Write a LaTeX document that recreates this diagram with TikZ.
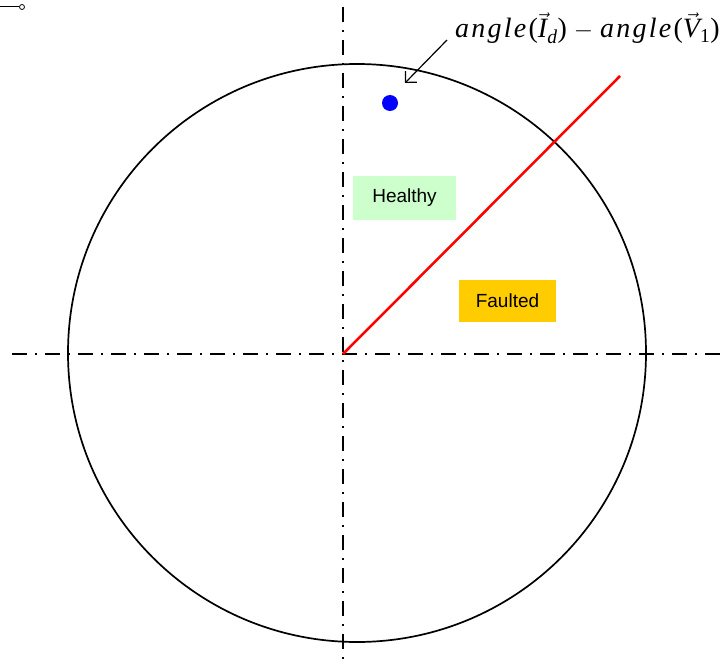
\documentclass[tikz,border=0pt]{standalone}
\usepackage{amsmath}
\usepackage{fontspec}
\setmainfont{Liberation Sans}
\newfontfamily\eqfont[LetterSpace=8]{Liberation Serif}
\usetikzlibrary{arrows.meta}
\definecolor{healthG}{RGB}{204,255,204}
\definecolor{faultO}{RGB}{255,204,0}
\definecolor{trajR}{RGB}{255,0,0}
\definecolor{pointB}{RGB}{0,0,255}

\begin{document}
\begin{tikzpicture}[x=1pt, y=-1pt,
  axis/.style={line width=1.5pt, dash pattern=on 15pt off 8pt on 2pt off 8pt},
  zone/.style={rectangle, inner sep=0pt, font=\fontsize{19}{22}\selectfont},
  eq/.style={font=\fontsize{28}{32}\selectfont\eqfont, inner sep=0pt}]

  \useasboundingbox (0,0) rectangle (726,669);

  \coordinate (o) at (343,354);
  \coordinate (xl) at (12,354);
  \coordinate (xr) at (726,354);
  \coordinate (yt) at (343,7);
  \coordinate (yb) at (343,662);
  \coordinate (r) at (620,76);
  \coordinate (tip) at (405,83);
  \coordinate (tail) at (447,40);

  % axes and unit circle
  \draw[axis] (xl) -- (xr);
  \draw[axis] (yt) -- (yb);
  \draw[line width=1.7pt] (357,353) circle[radius=289];

  % relay boundary
  \draw[trajR, line width=2.5pt] (o) -- (r);

  \node[zone, fill=healthG, minimum width=103pt, minimum height=44pt] (healthy) at (404.5,198) {Healthy};
  \node[zone, fill=faultO, minimum width=97pt, minimum height=42pt] (faulted) at (507.5,301) {Faulted};

  \node[circle, fill=pointB, inner sep=0pt, minimum size=16pt] (pt) at (390,103) {};

  \node[eq, anchor=base west] (lbl) at (455,38)
    {\itshape angle\/\upshape($\vec{\text{\eqfont\itshape I}}_{\text{\eqfont\itshape d}}$)\hspace{7pt}$-$\hspace{7pt}\itshape angle\/\upshape($\vec{\text{\eqfont\itshape V}}_{\text{\eqfont 1}}$)};
  \draw[-{Straight Barb[length=8pt, width=16pt]}, line width=1.2pt] (tail) -- (tip);

  % stray marker top left
  \coordinate (m0) at (0,7);
  \node[circle, draw, line width=0.8pt, inner sep=0pt, minimum size=5pt] (m1) at (22,7) {};
  \draw[line width=1pt] (m0) -- (m1);
\end{tikzpicture}
\end{document}
